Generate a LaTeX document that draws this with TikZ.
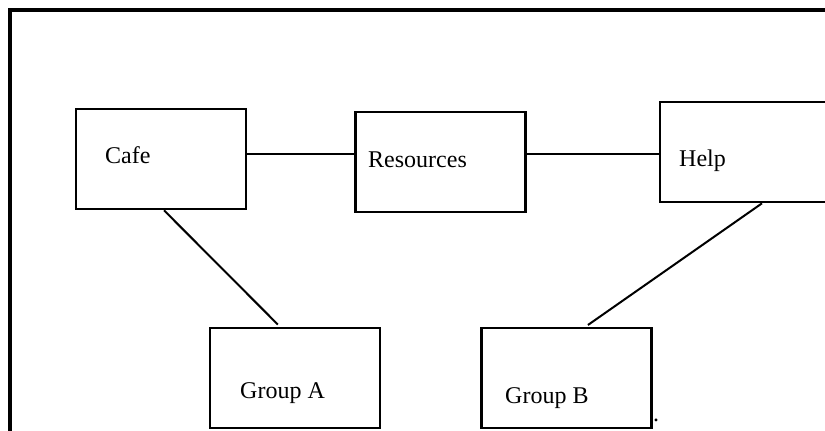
\documentclass[tikz,border=0pt]{standalone}
\usepackage{fontspec}
\setmainfont{Liberation Serif}
\usetikzlibrary{positioning}

\begin{document}
\begin{tikzpicture}[
            x=1pt, y=-1pt,
            box/.style={rectangle, draw=black, line width=2.6pt, minimum width=170pt, minimum height=100pt},
            lbl/.style={anchor=west, inner sep=0pt, font=\fontsize{24}{28}\selectfont},
            link/.style={draw=black, line width=2pt},
            frame/.style={draw=black, line width=3.2pt}
        ]
        \useasboundingbox (0,0) rectangle (825,431);

        % Outer frame (runs off the page on the right and bottom)
        \draw[frame] (10,445) -- (10,10) -- (840,10);

        % Boxes
        \node[box] (cafe) at (161,159) {};
        \node[box] (res)  at (440.5,162) {};
        \node[box] (help) at (745,152) {};
        \node[box] (grpA) at (295,378) {};
        \node[box] (grpB) at (566.5,378) {};

        % Box texts
        \node[lbl] (cafeT) at (105,155) {Cafe};
        \node[lbl] (resT)  at (368,160) {Resources};
        \node[lbl] (helpT) at (679,161) {Help};
        \node[lbl] (grpAT) at (240,393) {Group A};
        \node[lbl] (grpBT) at (505,398) {Group B};
        \node[lbl] (dot) at (653,420) {.};

        % Connections
        \draw[link] ([yshift=5pt]cafe.east) -- ([yshift=8pt]res.west);
        \draw[link] ([yshift=8pt]res.east) -- ([yshift=-2pt]help.west);
        \draw[link, shorten >=3pt] ([xshift=3pt]cafe.south) -- ([xshift=-15pt]grpA.north);
        \draw[link, shorten >=3pt] ([xshift=17pt]help.south) -- ([xshift=19pt]grpB.north);
\end{tikzpicture}
\end{document}
